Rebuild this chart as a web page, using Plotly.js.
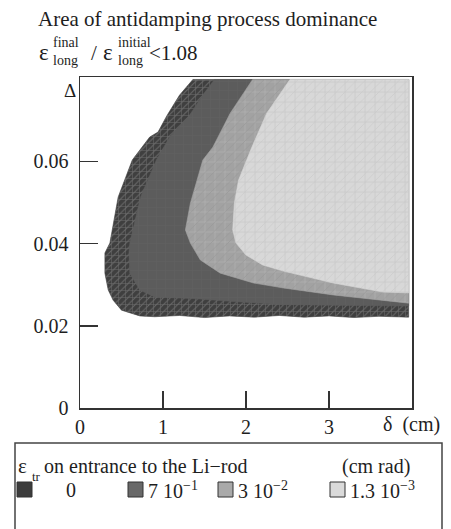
<!DOCTYPE html>
<html>
<head>
<meta charset="utf-8">
<script src="https://cdn.plot.ly/plotly-3.0.1.min.js"></script>
<style>html,body{margin:0;padding:0;background:#fff;}#chart{width:451px;height:529px;}</style>
</head>
<body>
<div id="chart"></div>
<script>
// ---- data (δ in cm, Δ dimensionless) ----
// region boundaries, traced from the top edge down and round to the right edge
const outerX = [1.36, 1.20, 1.05, 0.94, 0.84, 0.63, 0.46, 0.36, 0.30, 0.30, 0.34, 0.40, 0.50, 0.72, 0.90, 1.20, 1.50, 1.80, 2.10, 2.40, 2.70, 3.00, 3.30, 3.60, 3.96];
const outerY = [0.0799, 0.0761, 0.0712, 0.0671, 0.0659, 0.0603, 0.0513, 0.0401, 0.0377, 0.0328, 0.0287, 0.0262, 0.0238, 0.0224, 0.0222, 0.0225, 0.0220, 0.0224, 0.0221, 0.0225, 0.0221, 0.0224, 0.0220, 0.0223, 0.0221];

const mainX = [1.62, 1.48, 1.32, 1.08, 0.92, 0.73, 0.60, 0.59, 0.60, 0.72, 0.90, 1.40, 1.77, 2.40, 3.00, 3.96];
const mainY = [0.0799, 0.0761, 0.0712, 0.0659, 0.0603, 0.0513, 0.0401, 0.0377, 0.0328, 0.0287, 0.0270, 0.0266, 0.0260, 0.0252, 0.0250, 0.0248];

const midX = [2.08, 1.81, 1.60, 1.48, 1.41, 1.33, 1.27, 1.33, 1.45, 1.69, 2.09, 2.45, 3.05, 3.96];
const midY = [0.0799, 0.0717, 0.0634, 0.0603, 0.0554, 0.0498, 0.0433, 0.0401, 0.0360, 0.0328, 0.0304, 0.0292, 0.0275, 0.0255];

const lightX = [2.53, 2.25, 2.07, 2.01, 1.91, 1.86, 1.84, 1.88, 2.00, 2.20, 2.45, 3.05, 3.65, 3.96];
const lightY = [0.0799, 0.0717, 0.0634, 0.0603, 0.0554, 0.0498, 0.0433, 0.0401, 0.0372, 0.0348, 0.0333, 0.0304, 0.0282, 0.0280];

const dataRightX = 3.96;
const dataTopY = 0.0799;

const xTickVals = [0, 1, 2, 3];
const xTickText = ['0', '1', '2', '3'];
const yTickVals = [0, 0.02, 0.04, 0.06];
const yTickText = ['0', '0.02', '0.04', '0.06'];

const legendLabels = ['0', '7 10<sup>−1</sup>', '3 10<sup>−2</sup>', '1.3 10<sup>−3</sup>'];

// ---- styles / layout ----
const FONT = "'Liberation Serif', 'Times New Roman', serif";
const TXT = '#1e1e1e';
const legendColors = ['#3c3c3c', '#686868', '#a9a9a9', '#dadada'];
const swatchLeftPx = [17, 128, 218, 330];
const labelLeftPx = [64, 146, 236, 348];

const L = 80, R = 412, T = 77, B = 408;
const px2x = p => (p - L) / (R - L);
const py2y = p => (B - p) / (B - T);

function ring(xs, ys) {
  return { x: xs.concat([dataRightX, xs[0]]), y: ys.concat([dataTopY, ys[0]]) };
}

function region(xs, ys, bg, pat) {
  const r = ring(xs, ys);
  const t = {
    type: 'scatter', x: r.x, y: r.y, mode: 'lines', fill: 'toself',
    fillcolor: bg, line: { width: 0.6, color: bg }, hoverinfo: 'skip'
  };
  if (pat) t.fillpattern = Object.assign({ bgcolor: bg, fillmode: 'replace' }, pat);
  return t;
}

function overlay(xs, ys, pat) {
  const r = ring(xs, ys);
  return {
    type: 'scatter', x: r.x, y: r.y, mode: 'lines', fill: 'toself',
    fillcolor: 'rgba(0,0,0,0)', line: { width: 0 }, hoverinfo: 'skip',
    fillpattern: Object.assign({ bgcolor: 'rgba(0,0,0,0)', fillmode: 'replace' }, pat)
  };
}

const traces = [
  region(outerX, outerY, '#3f3f3f', { shape: '+', fgcolor: '#6c6c6c', size: 7, solidity: 0.15 }),
  overlay(outerX, outerY, { shape: '/', fgcolor: '#6a6a6a', size: 5, solidity: 0.2 }),
  region(mainX, mainY, '#5c5c5c', { shape: '+', fgcolor: '#626262', size: 9, solidity: 0.12 }),
  region(midX, midY, '#a2a2a2', { shape: '+', fgcolor: '#b1b1b1', size: 10, solidity: 0.12 }),
  overlay(midX, midY, { shape: '/', fgcolor: '#999999', size: 6, solidity: 0.12 }),
  region(lightX, lightY, '#d8d8d8', { shape: '+', fgcolor: '#c4c4c4', size: 10, solidity: 0.12 }),
  overlay(lightX, lightY, { shape: '/', fgcolor: '#cbcbcb', size: 6, solidity: 0.12 })
];

function ann(text, pxLeft, pyMid, size, extra) {
  return Object.assign({
    text: text, xref: 'paper', yref: 'paper', x: px2x(pxLeft), y: py2y(pyMid),
    xanchor: 'left', yanchor: 'middle', showarrow: false,
    font: { family: FONT, size: size, color: TXT }
  }, extra || {});
}

const annotations = [
  // second title line: ε_long^final / ε_long^initial < 1.08
  ann('ε', 37, 53, 23),
  ann('final', 51, 42, 14),
  ann('long', 51, 60, 14),
  ann('/', 89, 53, 21),
  ann('ε', 101, 53, 23),
  ann('initial', 116, 42, 14),
  ann('long', 116, 60, 14),
  ann('<1.08', 147, 53, 21),
  // axis labels
  ann('Δ', 62, 90, 19),
  ann('δ  (cm)', 381, 424, 20),
  // legend header
  ann('ε', 16, 466, 21),
  ann('tr', 30, 476, 13),
  ann('on entrance to the Li−rod', 42, 466, 20),
  ann('(cm rad)', 340, 466, 20)
];

const shapes = [
  { type: 'rect', xref: 'paper', yref: 'paper', x0: px2x(15), x1: px2x(442), y0: py2y(443), y1: py2y(545),
    line: { color: '#444', width: 1.5 }, fillcolor: 'rgba(0,0,0,0)' }
];

legendLabels.forEach((lab, i) => {
  shapes.push({ type: 'rect', xref: 'paper', yref: 'paper',
    x0: px2x(swatchLeftPx[i]), x1: px2x(swatchLeftPx[i] + 15),
    y0: py2y(482), y1: py2y(497),
    fillcolor: legendColors[i], line: { color: '#333', width: 1 } });
  annotations.push(ann(lab, labelLeftPx[i], 490, 20));
});

const axisCommon = {
  ticks: 'inside', tickwidth: 1.5, tickcolor: '#333',
  showgrid: false, zeroline: false, showline: true, mirror: true,
  linecolor: '#333', linewidth: 1.5,
  tickfont: { family: FONT, size: 20, color: TXT }, fixedrange: true
};

const layout = {
  width: 451, height: 529,
  margin: { l: L, r: 451 - R, t: T, b: 529 - B, pad: 0 },
  paper_bgcolor: '#fff', plot_bgcolor: '#fff',
  showlegend: false,
  title: {
    text: 'Area of antidamping process dominance',
    xref: 'container', yref: 'container', x: 38 / 451, xanchor: 'left',
    y: 1 - 19 / 529, yanchor: 'middle',
    font: { family: FONT, size: 21, color: TXT }
  },
  xaxis: Object.assign({}, axisCommon, { range: [0, 4], tickvals: xTickVals, ticktext: xTickText, ticklen: 17 }),
  yaxis: Object.assign({}, axisCommon, { range: [0, 0.0805], tickvals: yTickVals, ticktext: yTickText, ticklen: 18, ticklabelstandoff: 6 }),
  annotations: annotations,
  shapes: shapes
};

Plotly.newPlot('chart', traces, layout, { displayModeBar: false, staticPlot: true });
</script>
</body>
</html>
